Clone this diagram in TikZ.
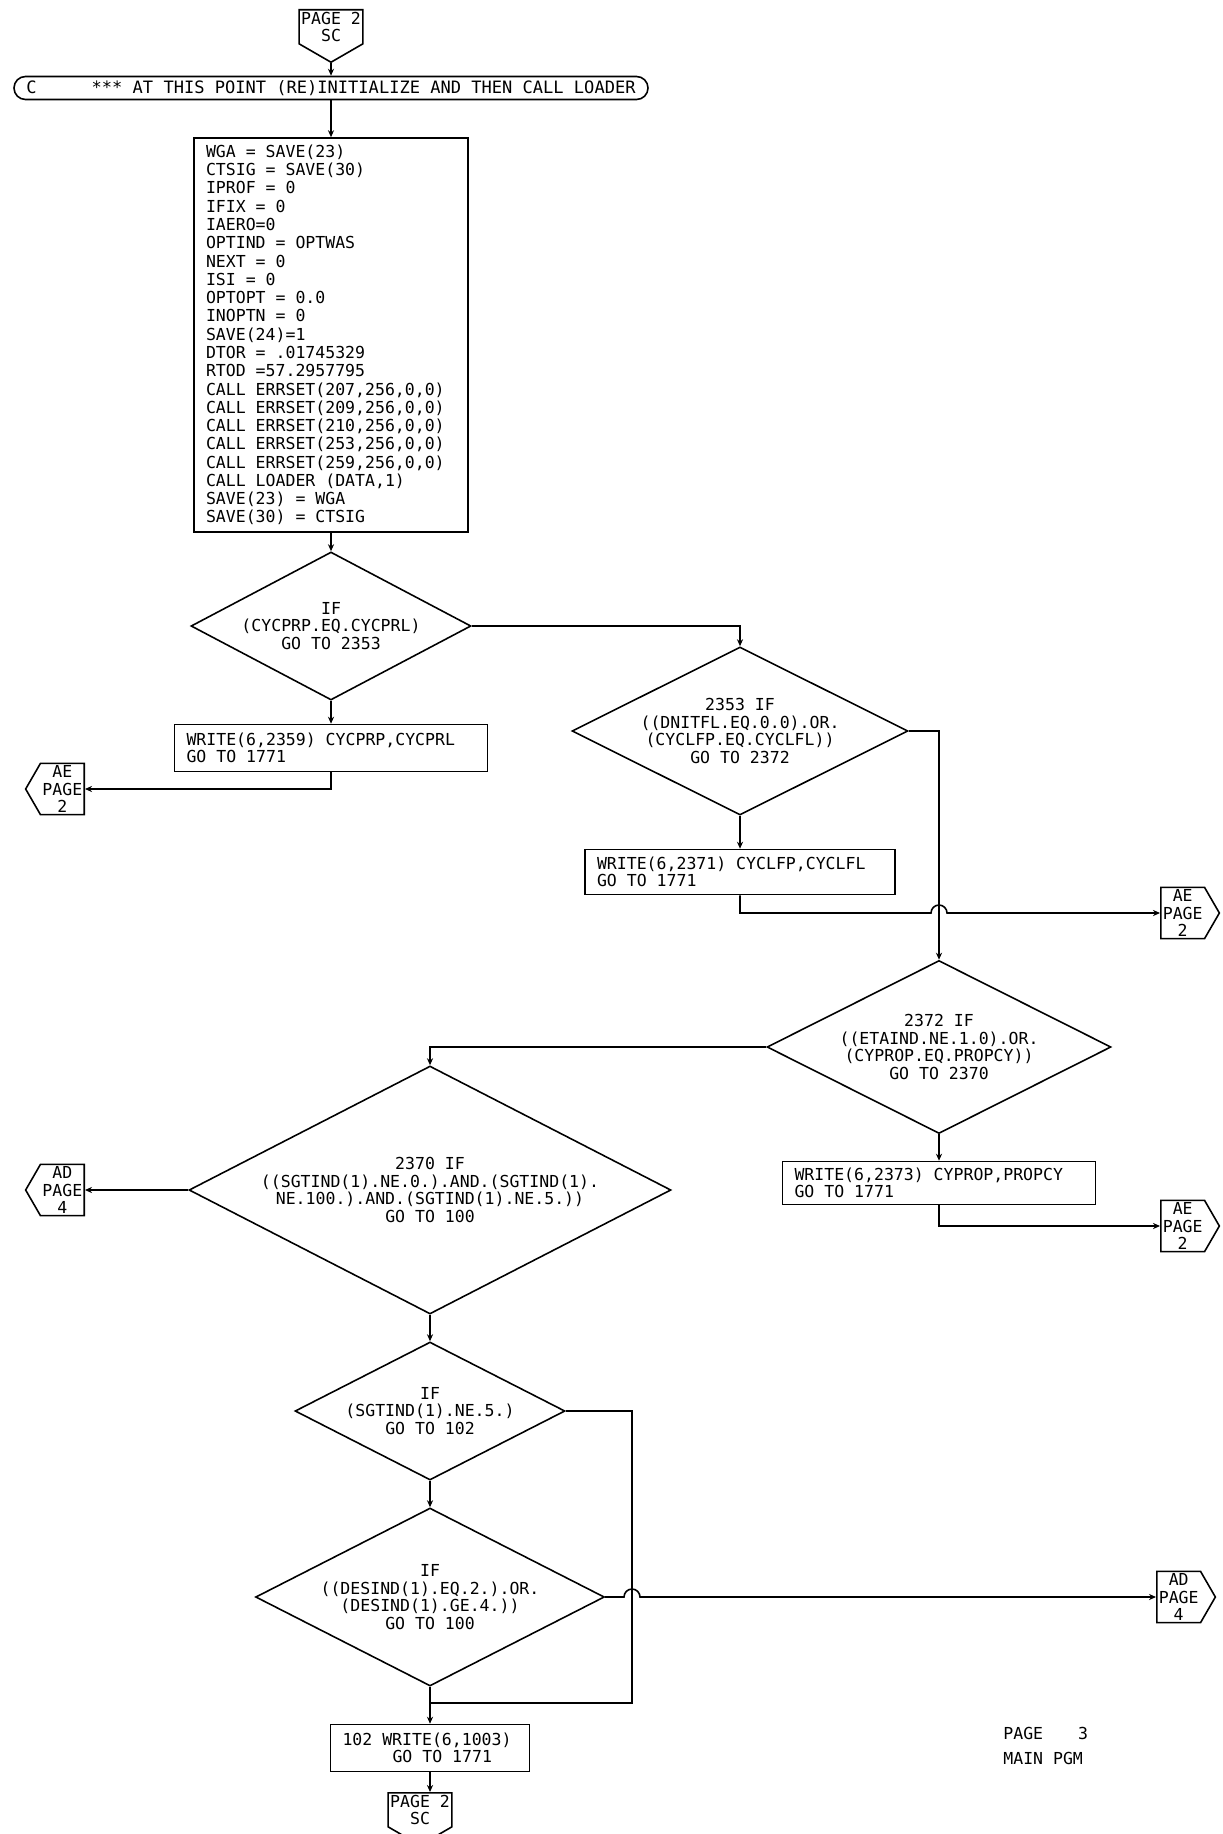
\documentclass[tikz,border=0pt]{standalone}
\usepackage{fontspec}
\setmonofont{DejaVu Sans Mono}[WordSpace={1,0,0}]
\usetikzlibrary{shapes.geometric,shapes.misc,shapes.symbols,arrows.meta}
\tikzset{
  flow/.style={draw, line width=0.9pt, font=\ttfamily\fontsize{9.4}{10}\selectfont},
  decision/.style={flow, diamond, aspect=2, inner sep=0pt, align=center},
  procbox/.style={flow, rectangle, inner xsep=2.4mm, inner ysep=0pt, align=left,
    execute at begin node={\spaceskip=5.66pt\relax}},
  termbox/.style={flow, rounded rectangle, inner xsep=1.5mm, inner ysep=0pt, align=left},
  pagebox/.style={flow, signal, signal from=nowhere, signal pointer angle=120, inner sep=0.4mm, align=center},
  pagedown/.style={pagebox, signal to=south, anchor=north},
  pageleft/.style={pagebox, signal to=west, anchor=east},
  pageright/.style={pagebox, signal to=east, anchor=west},
  link/.style={line width=0.9pt},
  tolink/.style={link, -{Stealth[length=4pt,width=3.5pt]}},
  note/.style={font=\ttfamily\fontsize{9.4}{10}\selectfont, anchor=west, inner sep=0pt}
}
\begin{document}
\frenchspacing
\begin{tikzpicture}[x=0.2mm, y=-0.2mm]
\useasboundingbox (0,0) rectangle (1222,1834);
\clip (0,0) rectangle (1222,1834);
\node[pagedown] (pgtop) at (331,9) {PAGE 2\\SC};
\node[termbox, minimum width=129.8mm, minimum height=4.6mm, font=\ttfamily\fontsize{9.7}{10}\selectfont] (init) at (331,88) {C\hspace{11mm}*** AT THIS POINT (RE)INITIALIZE AND THEN CALL LOADER};
\node[procbox, text width=50mm, minimum height=78.8mm, font=\ttfamily\fontsize{9.4}{10.4}\selectfont] (setup) at (331,335) {WGA = SAVE(23)\\CTSIG = SAVE(30)\\IPROF = 0\\IFIX = 0\\IAERO=0\\OPTIND = OPTWAS\\NEXT = 0\\ISI = 0\\OPTOPT = 0.0\\INOPTN = 0\\SAVE(24)=1\\DTOR = .01745329\\RTOD =57.2957795\\CALL ERRSET(207,256,0,0)\\CALL ERRSET(209,256,0,0)\\CALL ERRSET(210,256,0,0)\\CALL ERRSET(253,256,0,0)\\CALL ERRSET(259,256,0,0)\\CALL LOADER (DATA,1)\\SAVE(23) = WGA\\SAVE(30) = CTSIG};
\node[decision, aspect=1.9, minimum width=56mm, minimum height=29.6mm] (ifprp) at (331,626) {IF\\(CYCPRP.EQ.CYCPRL)\\GO TO 2353};
\node[procbox, text width=57.8mm, minimum height=9.4mm] (wrprp) at (331,748) {WRITE(6,2359) CYCPRP,CYCPRL\\GO TO 1771};
\node[pageleft] (aeone) at (85,789) {AE\\PAGE\\2};
\node[decision, minimum width=67.2mm, minimum height=33.6mm] (iflfp) at (740,731) {2353 IF\\((DNITFL.EQ.0.0).OR.\\(CYCLFP.EQ.CYCLFL))\\GO TO 2372};
\node[procbox, text width=57.2mm, minimum height=9mm] (wrlfp) at (740,872) {WRITE(6,2371) CYCLFP,CYCLFL\\GO TO 1771};
\node[pageright] (aetwo) at (1160,913) {AE\\PAGE\\2};
\node[decision, minimum width=68.8mm, minimum height=34.6mm] (ifeta) at (939,1047) {2372 IF\\((ETAIND.NE.1.0).OR.\\(CYPROP.EQ.PROPCY))\\GO TO 2370};
\node[procbox, text width=57.8mm, minimum height=8.6mm] (wreta) at (939,1183) {WRITE(6,2373) CYPROP,PROPCY\\GO TO 1771};
\node[pageright] (aethree) at (1160,1226) {AE\\PAGE\\2};
\node[decision, minimum width=96.4mm, minimum height=49.6mm] (ifsgt) at (430,1190) {2370 IF\\((SGTIND(1).NE.0.).AND.(SGTIND(1).\\NE.100.).AND.(SGTIND(1).NE.5.))\\GO TO 100};
\node[pageleft] (adone) at (85,1190) {AD\\PAGE\\4};
\node[decision, minimum width=54mm, minimum height=27.6mm] (iffive) at (430,1411) {IF\\(SGTIND(1).NE.5.)\\GO TO 102};
\node[decision, minimum width=69.2mm, minimum height=35.6mm] (ifdes) at (430,1597) {IF\\((DESIND(1).EQ.2.).OR.\\(DESIND(1).GE.4.))\\GO TO 100};
\node[pageright] (adtwo) at (1156,1597) {AD\\PAGE\\4};
\node[procbox, text width=35mm, minimum height=9.4mm] (wrbad) at (430,1748) {102 WRITE(6,1003)\\\hspace{10mm}GO TO 1771};
\node[pagedown] (pgbot) at (420,1792) {PAGE 2\\SC};
\node[note] (pgno) at (1003,1733) {PAGE\hspace{7mm}3};
\node[note] (pgname) at (1003,1758) {MAIN PGM};
\coordinate (rail) at (632,1703);
\coordinate (hopa) at (ifeta.north |- aetwo.west);
\coordinate (hopb) at (rail |- ifdes.east);
\draw[tolink] (pgtop.south) -- (init.north);
\draw[tolink] (init.south) -- (setup.north);
\draw[tolink] (setup.south) -- (ifprp.north);
\draw[tolink] (ifprp.east) -| (iflfp.north);
\draw[tolink] (ifprp.south) -- (wrprp.north);
\draw[tolink] (wrprp.south) |- (aeone.east);
\draw[tolink] (iflfp.south) -- (wrlfp.north);
\draw[tolink] (wrlfp.south) |- ([xshift=-1.6mm]hopa) arc[start angle=180, end angle=0, radius=1.6mm] -- (aetwo.west);
\draw[tolink] (iflfp.east) -| (ifeta.north);
\draw[tolink] (ifeta.south) -- (wreta.north);
\draw[tolink] (wreta.south) |- (aethree.west);
\draw[tolink] (ifeta.west) -| (ifsgt.north);
\draw[tolink] (ifsgt.west) -- (adone.east);
\draw[tolink] (ifsgt.south) -- (iffive.north);
\draw[tolink] (iffive.south) -- (ifdes.north);
\draw[link] (iffive.east) -| (rail) -- (rail -| ifdes.south);
\draw[tolink] (ifdes.east) -- ([xshift=-1.6mm]hopb) arc[start angle=180, end angle=0, radius=1.6mm] -- (adtwo.west);
\draw[tolink] (ifdes.south) -- (wrbad.north);
\draw[tolink] (wrbad.south) -- (wrbad.south |- pgbot.north);
\end{tikzpicture}
\end{document}
